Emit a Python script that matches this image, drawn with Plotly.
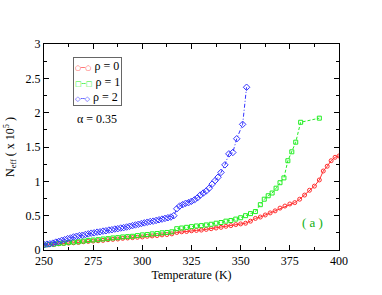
import plotly.graph_objects as go

# rho = 0 (red)
t_r0 = [250, 252.5, 255, 257.5, 260, 262.5, 265, 267.5, 270, 272.5, 275, 277.5, 280, 282.5, 285,
        287.5, 290, 292.5, 295, 297.5, 300, 302.5, 305, 307.5, 310, 312.5, 315, 317.5, 320, 322.5,
        325, 327.5, 330, 332.5, 335, 337.5, 340, 342.5, 345, 347.5, 350, 352.5, 355, 357.5, 360,
        362.5, 365, 367.5, 370, 372.5, 375, 377.5, 380, 382.5, 385, 387.5, 390, 392, 394, 396, 398, 400]
n_r0 = [0.07, 0.075, 0.08, 0.09, 0.095, 0.10, 0.105, 0.11, 0.12, 0.125, 0.13, 0.135, 0.14, 0.15, 0.155,
        0.16, 0.17, 0.175, 0.18, 0.185, 0.19, 0.20, 0.205, 0.21, 0.22, 0.225, 0.235, 0.255, 0.265, 0.27,
        0.28, 0.285, 0.29, 0.30, 0.31, 0.32, 0.33, 0.345, 0.355, 0.37, 0.38, 0.39, 0.42, 0.46, 0.48,
        0.51, 0.54, 0.57, 0.61, 0.64, 0.67, 0.69, 0.74, 0.80, 0.87, 0.93, 1.02, 1.15, 1.22, 1.30, 1.35, 1.37]

# rho = 1 (green)
t_r1 = [250, 252.5, 255, 257.5, 260, 262.5, 265, 267.5, 270, 272.5, 275, 277.5, 280, 282.5, 285,
        287.5, 290, 292.5, 295, 297.5, 300, 302.5, 305, 307.5, 310, 312.5, 315, 317.5, 320, 322.5,
        325, 327.5, 330, 332.5, 335, 337.5, 340, 342.5, 345, 347.5, 350, 352.5, 355, 357.5, 360,
        362, 364, 366, 368, 370, 372, 374, 376, 378, 380.5, 390]
n_r1 = [0.07, 0.08, 0.085, 0.095, 0.10, 0.11, 0.115, 0.12, 0.13, 0.14, 0.145, 0.15, 0.16, 0.165, 0.175,
        0.18, 0.19, 0.195, 0.20, 0.21, 0.22, 0.225, 0.235, 0.24, 0.25, 0.255, 0.265, 0.31, 0.32, 0.33,
        0.34, 0.35, 0.355, 0.365, 0.375, 0.39, 0.40, 0.42, 0.43, 0.45, 0.47, 0.50, 0.53, 0.56, 0.66,
        0.74, 0.79, 0.83, 0.90, 0.98, 1.05, 1.30, 1.43, 1.57, 1.86, 1.92]

# rho = 2 (blue)
t_r2 = [250, 251.5, 253, 254.5, 256, 257.5, 259, 260.5, 262, 263.5, 265, 266.5, 268, 269.5, 271,
        272.5, 274, 275.5, 277, 278.5, 280, 281.5, 283, 284.5, 286, 287.5, 289, 290.5, 292, 293.5,
        295, 296.5, 298, 299.5, 301, 302.5, 304, 305.5, 307, 308.5, 310, 311.5, 313, 314.5, 316,
        317.5, 319, 320.5, 322, 323.5, 325, 326.5, 328, 329.5, 331, 332.5, 334, 335.5, 337, 338.5,
        340, 342, 344, 346, 348, 351, 353]
n_r2 = [0.08, 0.085, 0.09, 0.10, 0.115, 0.125, 0.14, 0.15, 0.165, 0.175, 0.19, 0.20, 0.21, 0.215, 0.225,
        0.235, 0.245, 0.25, 0.26, 0.265, 0.275, 0.28, 0.29, 0.295, 0.305, 0.31, 0.32, 0.325, 0.335, 0.345,
        0.355, 0.365, 0.375, 0.385, 0.395, 0.405, 0.415, 0.42, 0.43, 0.44, 0.45, 0.46, 0.47, 0.48, 0.50,
        0.60, 0.64, 0.66, 0.68, 0.69, 0.71, 0.73, 0.76, 0.80, 0.83, 0.86, 0.90, 0.96, 1.01, 1.06,
        1.13, 1.24, 1.40, 1.42, 1.62, 1.83, 2.37]

series_names = ["ρ = 0", "ρ = 1", "ρ = 2"]
x_ticks = [250, 275, 300, 325, 350, 375, 400]
y_ticks = [0, 0.5, 1, 1.5, 2, 2.5, 3]
y_tick_text = ["0", "0.5", "1", "1.5", "2", "2.5", "3"]

FONT = "Liberation Serif, Times New Roman, serif"
RED = "#ff3030"
GREEN = "#22ee22"
BLUE = "#3333ff"

fig = go.Figure()
fig.add_trace(go.Scatter(x=t_r0, y=n_r0, name=series_names[0], mode="lines+markers",
                         line=dict(color=RED, width=1),
                         marker=dict(symbol="circle-open", size=4, color=RED, line=dict(width=1))))
fig.add_trace(go.Scatter(x=t_r1, y=n_r1, name=series_names[1], mode="lines+markers",
                         line=dict(color=GREEN, width=1, dash="3px,2px"),
                         marker=dict(symbol="square-open", size=4, color=GREEN, line=dict(width=1))))
fig.add_trace(go.Scatter(x=t_r2, y=n_r2, name=series_names[2], mode="lines+markers",
                         line=dict(color=BLUE, width=1, dash="4px,2px,1px,2px"),
                         marker=dict(symbol="diamond-open", size=5, color=BLUE, line=dict(width=1))))

axis_common = dict(showgrid=False, zeroline=False, showline=True, linecolor="black", linewidth=1,
                   mirror="ticks", ticks="inside", ticklen=5, tickcolor="black", automargin=False,
                   tickfont=dict(family=FONT, size=12, color="black"),
                   minor=dict(ticks="inside", ticklen=3, tickcolor="black"))

fig.update_xaxes(range=[250, 400], tickvals=x_ticks,
                 title=dict(text="Temperature (K)", font=dict(family=FONT, size=12, color="black"), standoff=2),
                 **axis_common)
fig.update_xaxes(minor_dtick=12.5)
fig.update_yaxes(range=[0, 3], tickvals=y_ticks, ticktext=y_tick_text,
                 title=dict(text="N<sub>eff</sub> ( x 10<sup>5</sup> )", font=dict(family=FONT, size=12, color="black"), standoff=8),
                 **axis_common)
fig.update_yaxes(minor_dtick=0.25)

# compact legend box drawn as text (plotly's legend rows are taller than the reference's)
samples = [("○─○", RED), ("□╌□", GREEN), ("◇╌◇", BLUE)]
legend_lines = [
    f"<span style='color:{c};font-family:DejaVu Sans;font-size:7px'>{s}</span> {n}"
    for (s, c), n in zip(samples, series_names)
]
fig.add_annotation(x=0.098, y=0.937, xref="paper", yref="paper", xanchor="left", yanchor="top",
                   text="<br>".join(legend_lines), align="left", showarrow=False,
                   font=dict(family=FONT, size=12, color="black"),
                   bgcolor="white", bordercolor="#666666", borderwidth=1, borderpad=1)

fig.add_annotation(x=0.105, y=0.636, xref="paper", yref="paper", text="α = 0.35", showarrow=False,
                   font=dict(family=FONT, size=12, color="black"), xanchor="left")
fig.add_annotation(x=0.91, y=0.087, xref="paper", yref="paper", text="( a )", showarrow=False,
                   font=dict(family=FONT, size=13, color="#10b010"), xanchor="center")

fig.update_layout(width=382, height=295, margin=dict(l=44, r=43, t=44, b=45),
                  paper_bgcolor="white", plot_bgcolor="white", showlegend=False)

fig.write_html("out.html", config={"displayModeBar": False},
               post_script="document.body.style.margin='0';")
